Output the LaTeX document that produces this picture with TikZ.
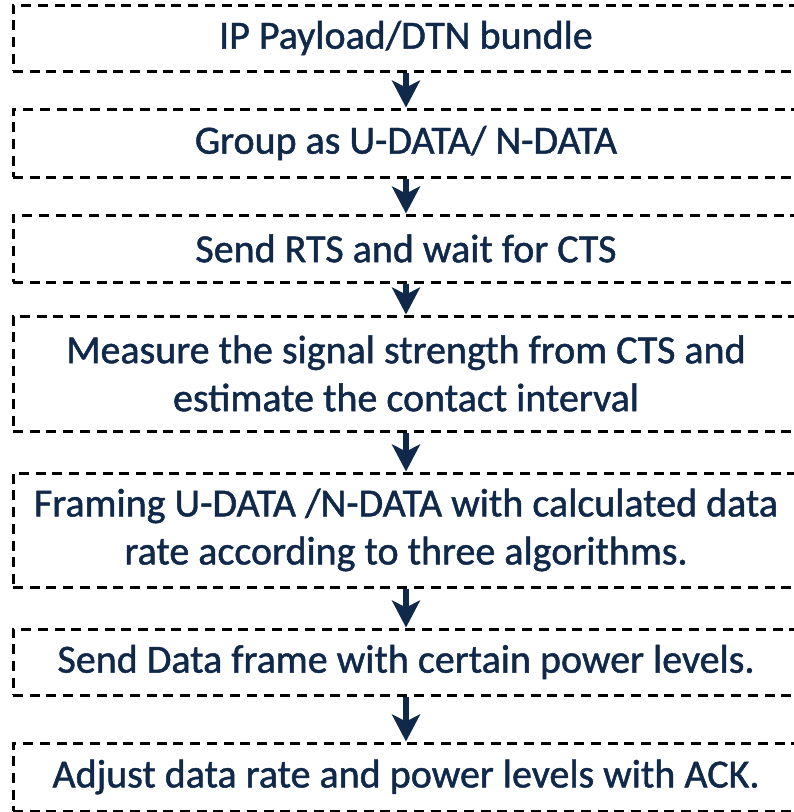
\documentclass[tikz,border=0pt]{standalone}
\usepackage{fontspec}
\setmainfont[FakeBold=1.2]{Carlito}
\usetikzlibrary{arrows.meta}
\definecolor{navy}{HTML}{10284A}
\tikzset{
  stepbox/.style={draw=black, line width=3pt, dash pattern=on 10pt off 6.7pt,
    minimum width=786pt, inner sep=0pt, align=center, text=navy,
    font=\fontsize{40pt}{48pt}\selectfont},
  flow/.style={draw=navy, line width=6pt,
    -{Stealth[length=27pt, width=28pt, inset=7pt]}}
}
\begin{document}
\begin{tikzpicture}[x=1pt, y=-1pt]
  \useasboundingbox (0,0) rectangle (794,812);
  \clip (0,0) rectangle (794,812);
  \node[stepbox, minimum height=66pt] (b1) at (406,38) {IP Payload/DTN bundle};
  \node[stepbox, minimum height=68pt] (b2) at (406,143) {Group as U-DATA/ N-DATA};
  \node[stepbox, minimum height=67pt] (b3) at (406,248.5) {Send RTS and wait for CTS};
  \node[stepbox, minimum height=115pt] (b4) at (406,373.5) {Measure the signal strength from CTS and\\estimate the contact interval};
  \node[stepbox, minimum height=114pt] (b5) at (406,530) {Framing U-DATA /N-DATA with calculated data\\rate according to three algorithms.};
  \node[stepbox, minimum height=66pt] (b6) at (406,662) {Send Data frame with certain power levels.};
  \node[stepbox, minimum height=68pt] (b7) at (406,777) {Adjust data rate and power levels with ACK.};
  \foreach \a/\b in {b1/b2, b2/b3, b3/b4, b4/b5, b5/b6, b6/b7}
    \draw[flow] (\a.south) -- (\b.north);
\end{tikzpicture}
\end{document}
